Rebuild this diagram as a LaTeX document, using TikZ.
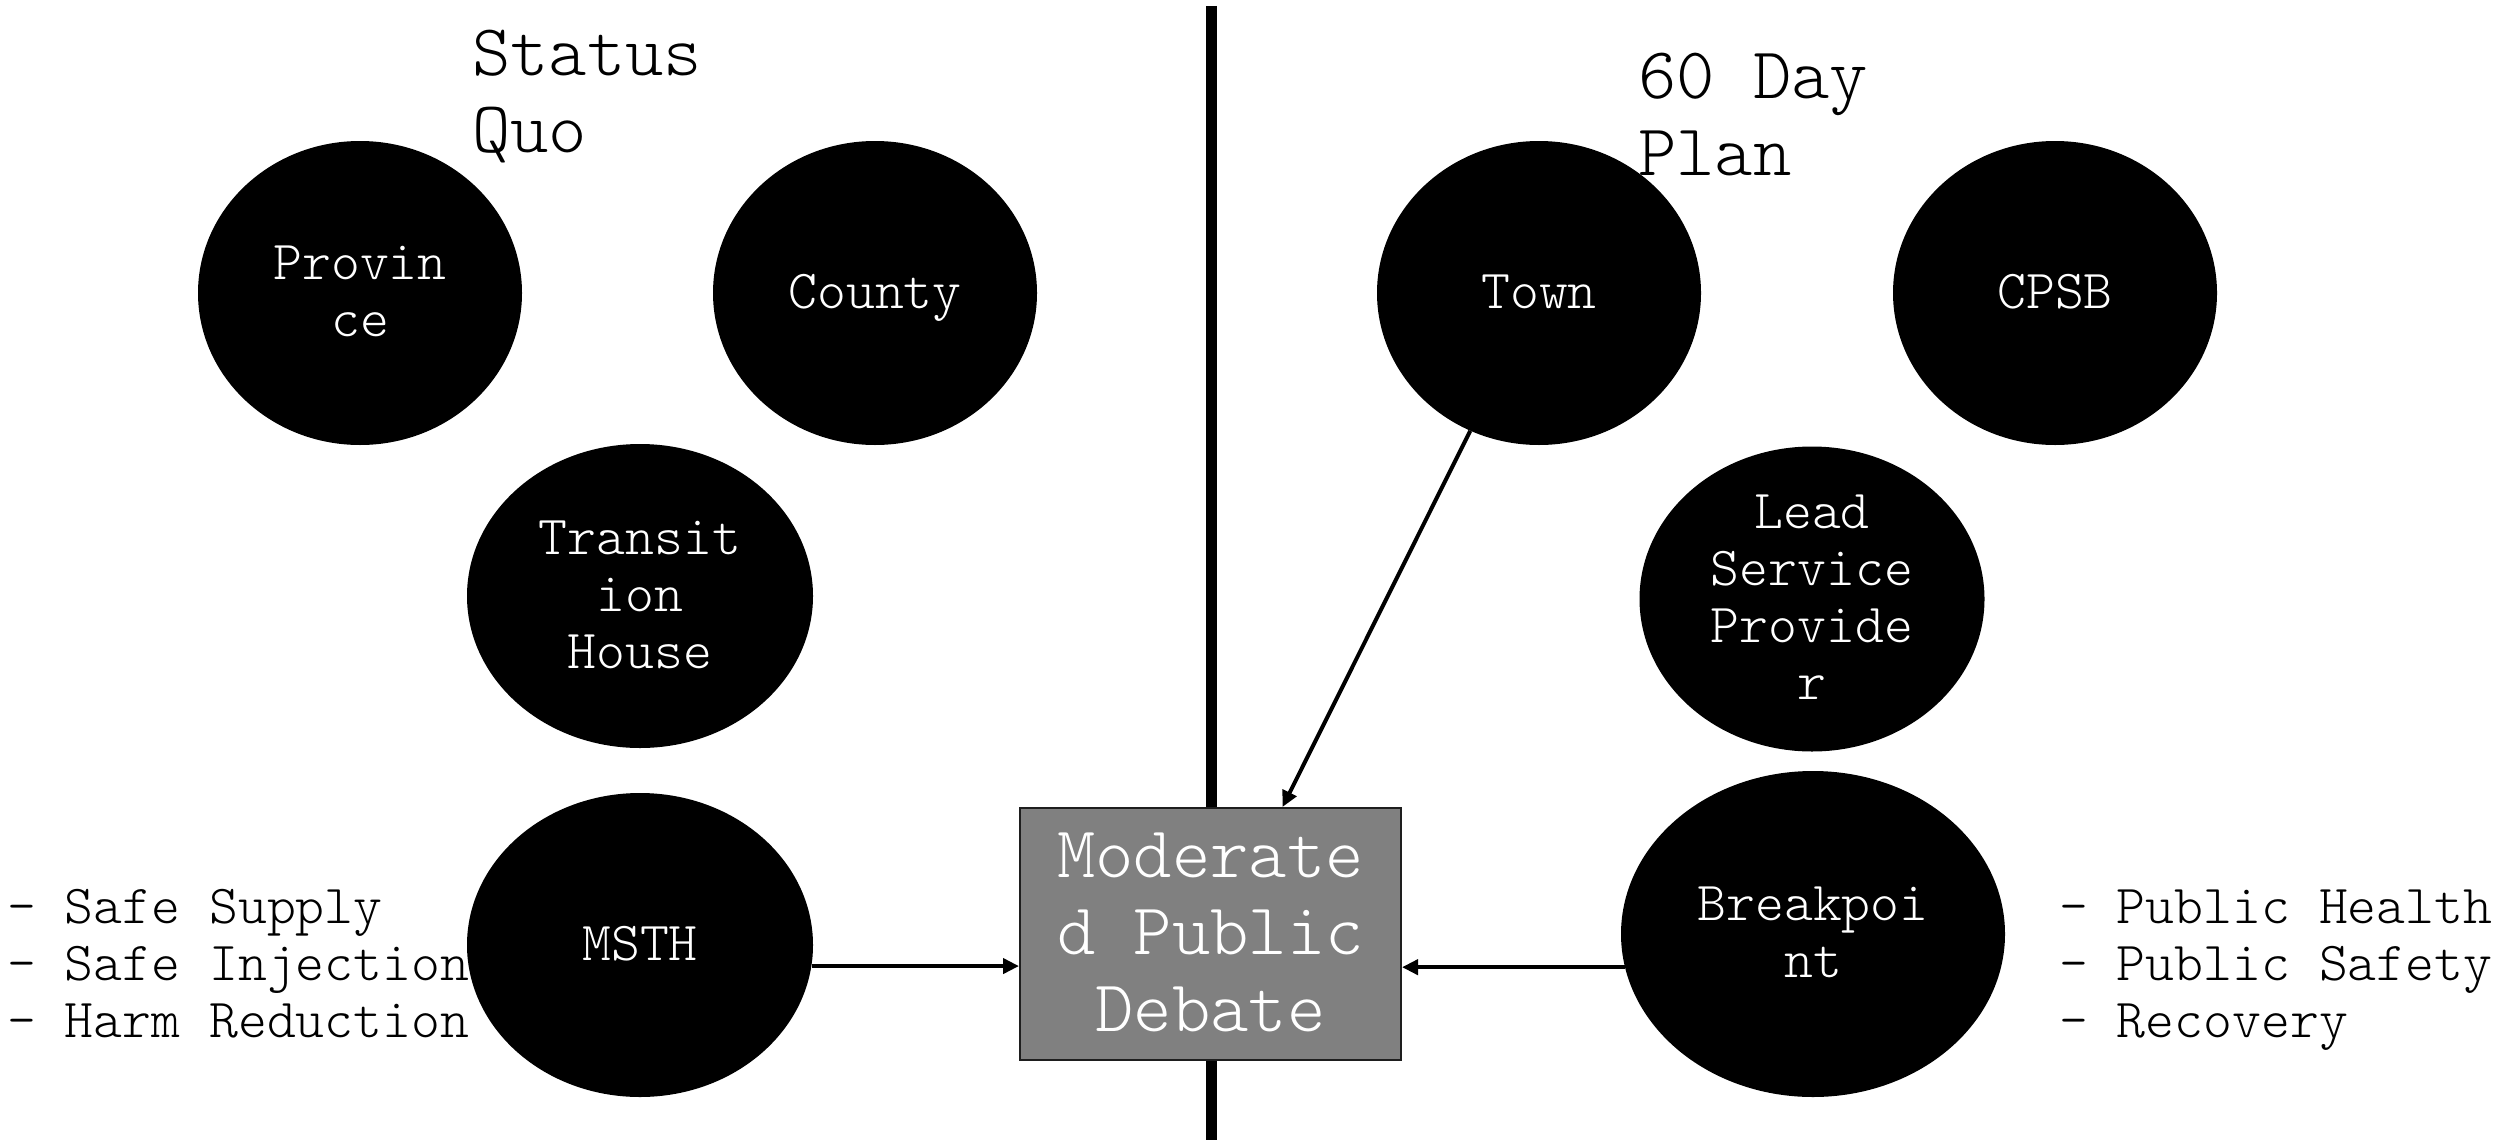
\documentclass[tikz,border=0pt]{standalone}
\usepackage{fontspec}
\setmonofont{lmmonolt10-regular.otf}
\usetikzlibrary{shapes.geometric,arrows.meta}
\definecolor{boxgray}{RGB}{128,128,128}
\definecolor{boxedge}{RGB}{30,30,30}
\newcommand{\smallfnt}{\ttfamily\fontsize{55}{57}\selectfont}
\newcommand{\bigfnt}{\ttfamily\fontsize{73}{77}\selectfont}
\newcommand{\stk}[2][c]{\begin{tabular}[t]{@{}#1@{}}#2\end{tabular}}
\newcommand{\lowstk}[2][4pt]{\raisebox{-#1}[\height][\depth]{\stk{#2}}}
\tikzset{
  blob/.style={ellipse, fill=black, draw=none, inner xsep=-20pt, inner ysep=-40pt,
    text=white, font=\smallfnt},
  debate/.style={rectangle, fill=boxgray, draw=boxedge, line width=2pt, inner sep=0pt,
    minimum width=381pt, minimum height=252pt, text=white, font=\bigfnt},
  arr/.style={line width=4pt, -{Triangle[length=16pt,width=15pt]}},
  divider/.style={line width=11pt},
  note/.style={anchor=base west, inner sep=0pt, font=\smallfnt},
  heading/.style={anchor=base west, inner sep=0pt, font=\bigfnt}
}
\begin{document}
\begin{tikzpicture}[x=1pt,y=-1pt]
\useasboundingbox (0,0) rectangle (2496,1140);
\fill[white] (0,0) rectangle (2496,1140);

% divider
\coordinate (divtop) at (1211,6);
\coordinate (divbot) at (1211,1140);
\draw[divider] (divtop) -- (divbot);

% headings
\node[heading] (sq) at (472,75) {\stk[l]{Status\\Quo}};
\node[heading] (plan) at (1638,98) {\stk[l]{60 Day\\Plan}};

% left side
\node[blob, minimum width=324pt, minimum height=304pt] (prov) at (360,293) {\lowstk{Provin\\ce}};
\node[blob, minimum width=324pt, minimum height=304pt] (county) at (875,293) {\lowstk{County}};
\node[blob, minimum width=346pt, minimum height=304pt] (trans) at (640,596) {\lowstk{Transit\\ion\\House}};
\node[blob, minimum width=346pt, minimum height=304pt] (msth) at (640,945) {\lowstk{MSTH}};

% right side
\node[blob, minimum width=324pt, minimum height=304pt] (town) at (1539,293) {\lowstk{Town}};
\node[blob, minimum width=324pt, minimum height=304pt] (cpsb) at (2055,293) {\lowstk{CPSB}};
\node[blob, minimum width=345pt, minimum height=305pt] (lead) at (1812,599) {\lowstk{Lead\\Service\\Provide\\r}};
\node[blob, minimum width=384pt, minimum height=326pt] (bp) at (1813,934) {\lowstk{Breakpoi\\nt}};

% centre box
\node[debate] (debate) at (1210.5,934) {\lowstk[5pt]{Moderate\\d Public\\Debate}};

% lists
\node[note] (leftlist) at (7,923) {\stk[l]{- Safe Supply\\- Safe Injection\\- Harm Reduction}};
\node[note] (rightlist) at (2059,923) {\stk[l]{- Public Health\\- Public Safety\\- Recovery}};

% connectors
\draw[arr] (msth.-7) -- (msth.-7 -| debate.west);
\draw[arr] (bp.190) -- (bp.190 -| debate.east);
\draw[arr] (town) -- ([xshift=72pt]debate.north);
\end{tikzpicture}
\end{document}
